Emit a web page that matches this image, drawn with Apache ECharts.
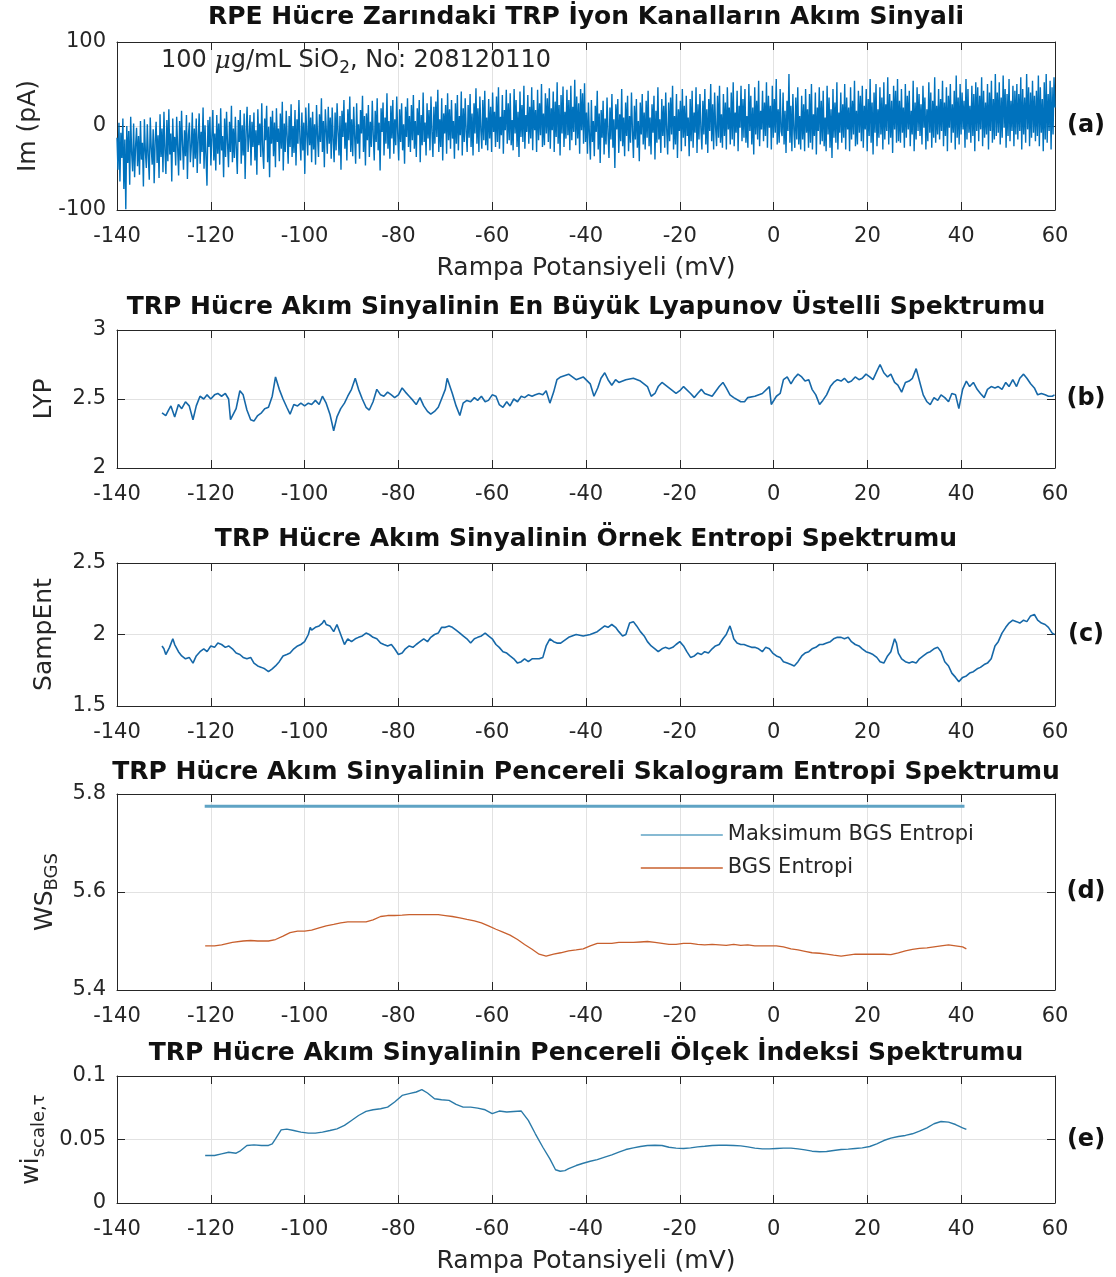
<!DOCTYPE html>
<html><head><meta charset="utf-8">
<script src="https://cdn.jsdelivr.net/npm/echarts@6/dist/echarts.min.js"></script>
<style>html,body{margin:0;padding:0;background:#fff}#c{width:1116px;height:1277px}</style>
</head><body><div id="c"></div><script>
// ---------- data ----------
const xTickMin = -140, xTickMax = 60, xTickStep = 20;
const imStart = -140, imEnd = 60;
const imValues = [
-14,-52,4,-66,-8,-38,9,-75,-16,-99,0,-44,-6,-70,11,-33,-54,3,-61,-24,
-2,-48,-12,-58,6,-40,-20,-72,8,-30,-50,2,-36,-64,10,-26,-46,-4,-68,-18,
5,-44,-11,-62,14,-37,-3,-55,17,-29,-57,7,-42,20,-34,-9,-66,9,-31,-13,
-47,11,-26,-59,6,-41,18,-22,-52,-5,-36,13,-63,-11,4,-43,-24,16,-49,-3,
-39,9,-56,-15,15,-45,-7,-31,22,-51,1,-37,-71,7,-25,11,-47,-13,19,-41,
-9,-53,13,-33,3,-46,21,-29,-12,-61,9,-37,17,-21,-49,5,-31,24,-43,-3,
-38,11,-27,-57,7,-19,19,-45,1,-35,15,-63,-7,23,-31,-13,13,-47,5,-25,
16,-41,-5,-58,20,-23,3,-37,27,-29,-51,9,-17,24,-43,-1,-61,11,-21,18,
-36,4,-49,21,-19,-3,-42,15,-27,29,-53,3,-31,18,-13,-45,12,-25,26,-37,
0,-32,19,-47,8,-21,31,-15,-41,16,-29,4,-57,22,-9,-35,27,-23,10,-43,
17,-28,2,-46,25,-11,-37,14,-19,33,-31,6,-49,20,-5,-33,23,-21,10,-39,
22,-16,-43,16,-29,27,-7,-35,12,-52,18,-13,31,-27,4,-41,20,-17,35,-31,
8,-36,23,-13,-45,27,-21,2,-39,19,-9,36,-31,12,-47,15,-17,25,-37,5,
-25,30,-11,-41,18,-19,33,-29,4,-53,21,-7,28,-35,10,-21,39,-27,6,-39,
24,-15,31,-33,8,-23,35,-9,-41,20,-19,27,-29,2,-45,23,-13,33,-25,12,
-31,25,-17,37,-27,6,-37,21,-11,31,-43,13,-23,40,-19,4,-35,27,-15,19,
-29,35,-7,-37,23,-21,29,-13,43,-31,8,-25,33,-41,15,-9,25,-33,39,-17,
20,-27,31,-15,6,-39,27,-21,37,-29,12,-11,41,-35,21,-19,33,-7,-31,25,
-14,38,-25,15,-35,27,-9,45,-21,21,-31,35,-5,-27,31,-17,42,-23,10,-29,
32,-15,23,-31,40,-7,17,-25,35,-19,46,-27,11,-11,37,-33,19,-5,43,-21,
27,-17,39,-23,7,-29,44,-9,31,-25,17,-37,41,-13,25,-19,48,-27,13,-7,
37,-21,23,-15,46,-29,31,-5,19,-31,43,-17,27,-11,50,-25,15,-23,39,-9,
33,-19,45,-27,21,-5,41,-31,29,-13,52,-21,25,-35,37,-9,47,-25,17,-15,
43,-11,31,-29,48,-17,23,-7,55,-23,35,-15,27,-33,44,-5,39,-21,51,-19,
16,-33,28,-10,-40,31,-19,6,-36,24,-7,42,-28,15,-44,19,-14,30,-34,9,
-22,34,-8,-38,22,-16,38,-26,8,-50,26,-4,32,-32,14,-18,44,-24,10,-36,
28,-12,36,-30,12,-20,40,-6,-38,24,-16,32,-26,6,-42,28,-10,38,-22,16,
-28,30,-14,42,-24,10,-34,26,-8,36,-40,18,-20,46,-16,8,-32,32,-12,24,
-26,40,-4,-34,28,-18,34,-10,48,-28,12,-22,38,-38,20,-6,30,-30,44,-14,
24,-24,36,-12,10,-36,32,-18,42,-26,16,-8,46,-32,26,-16,38,-4,-28,30,
-10,44,-22,20,-32,32,-6,50,-18,26,-28,40,-2,-24,36,-14,48,-20,14,-26,
38,-12,28,-28,46,-4,22,-22,40,-16,52,-24,16,-8,42,-30,24,-2,48,-18,
32,-14,44,-20,12,-26,50,-6,36,-22,22,-34,46,-10,30,-16,54,-24,18,-4,
42,-18,28,-12,52,-26,36,-2,24,-28,48,-14,32,-8,56,-22,20,-20,44,-6,
-12,40,-22,18,-32,30,-6,62,-20,24,-30,38,-4,-26,34,-16,46,-22,12,-28,
36,-16,26,-30,44,-8,20,-26,38,-20,50,-28,14,-12,40,-34,22,-6,46,-22,
30,-18,42,-24,10,-30,48,-10,34,-26,20,-38,44,-14,28,-20,52,-28,16,-8,
40,-20,26,-14,50,-28,34,-4,22,-30,46,-16,30,-10,54,-24,18,-22,42,-8,
36,-18,48,-26,24,-4,44,-30,32,-12,56,-20,28,-34,40,-8,50,-24,20,-14,
46,-10,34,-28,52,-16,26,-6,58,-22,38,-14,30,-32,48,-4,42,-20,56,-18,
30,-20,44,-8,22,-26,50,-14,36,-4,42,-24,18,-10,54,-30,28,-16,46,-6,
38,-12,26,-22,48,-2,34,-28,20,-18,52,-8,40,-26,30,-14,58,-20,24,-10,
44,-16,32,-6,54,-24,28,-12,46,-30,36,-2,50,-20,26,-8,42,-28,60,-14,
34,-22,50,-10,40,-4,30,-26,56,-16,44,-8,24,-20,48,-12,38,-30,52,-6,
46,-18,36,-4,58,-24,42,-14,28,-10,50,-28,40,-6,54,-20,32,-16,62,-12,
40,-8,52,-22,34,-14,60,-2,44,-26,38,-12,56,-18,30,-6,48,-24,42,-10,
50,-16,38,-6,58,-28,44,-10,34,-20,62,-4,46,-24,40,-14,54,-8,36,-18,
42,-12,60,-24,46,-8,32,-30,52,-16,62,-20,38,-6,54,-28,46,-10,58,22
];
const lypData = [
[-130.4,2.40],[-129.6,2.38],[-129,2.42],[-128.5,2.45],[-127.7,2.37],[-126.9,2.46],[-126.2,2.43],[-125.4,2.48],[-124.6,2.45],[-123.8,2.35],[-123.1,2.45],[-122.3,2.52],[-121.5,2.50],[-120.8,2.53],[-120,2.50],[-119.2,2.53],[-118.5,2.54],[-117.7,2.52],[-116.9,2.54],[-116.2,2.50],[-115.8,2.35],[-114.6,2.43],[-113.8,2.56],[-113.1,2.53],[-112.3,2.42],[-111.5,2.35],[-110.8,2.34],[-110,2.38],[-109.2,2.40],[-108.5,2.43],[-107.7,2.44],[-106.9,2.52],[-106.2,2.66],[-105.4,2.57],[-104.6,2.50],[-103.8,2.44],[-103.1,2.39],[-102.3,2.46],[-101.5,2.45],[-100.8,2.47],[-100,2.45],[-99.2,2.47],[-98.5,2.46],[-97.7,2.49],[-96.9,2.46],[-96.2,2.52],[-95.4,2.47],[-94.6,2.39],[-93.8,2.27],[-93.1,2.37],[-92.3,2.43],[-91.5,2.47],[-90.8,2.52],[-90,2.57],[-89.2,2.65],[-88.5,2.57],[-87.7,2.50],[-86.9,2.44],[-86.2,2.42],[-85.4,2.48],[-84.6,2.57],[-83.8,2.53],[-83.1,2.52],[-82.3,2.55],[-81.5,2.53],[-80.8,2.51],[-80,2.53],[-79.2,2.58],[-78.5,2.55],[-77.7,2.52],[-76.9,2.49],[-76.2,2.46],[-75.4,2.51],[-74.6,2.45],[-73.8,2.41],[-73.1,2.39],[-72.3,2.41],[-71.5,2.44],[-70.8,2.50],[-70,2.57],[-69.6,2.65],[-68.5,2.54],[-67.7,2.45],[-66.9,2.38],[-66.2,2.47],[-65.4,2.49],[-64.6,2.48],[-63.8,2.51],[-63.1,2.49],[-62.3,2.52],[-61.5,2.48],[-60.8,2.49],[-60,2.53],[-59.2,2.52],[-58.5,2.46],[-57.7,2.44],[-56.9,2.48],[-56.2,2.45],[-55.4,2.50],[-54.6,2.48],[-53.8,2.52],[-53.1,2.51],[-52.3,2.53],[-51.5,2.52],[-50.8,2.53],[-50,2.54],[-49.2,2.53],[-48.5,2.56],[-47.7,2.47],[-46.9,2.55],[-46.2,2.64],[-45.4,2.66],[-43.7,2.68],[-42.1,2.64],[-40.6,2.66],[-39.1,2.61],[-38.3,2.52],[-37.5,2.58],[-36.8,2.65],[-36,2.69],[-35.3,2.64],[-34.5,2.60],[-33.7,2.64],[-33,2.62],[-31.5,2.64],[-29.9,2.65],[-28.4,2.63],[-26.9,2.59],[-26.1,2.52],[-25.3,2.54],[-24.6,2.59],[-23.8,2.62],[-22.3,2.58],[-20.8,2.54],[-20,2.56],[-19.2,2.59],[-17.7,2.54],[-16.9,2.51],[-16.2,2.54],[-15.4,2.57],[-14.7,2.54],[-13.1,2.52],[-11.6,2.59],[-10.8,2.62],[-10.1,2.58],[-9.3,2.53],[-8.5,2.51],[-7,2.48],[-6.2,2.48],[-5.5,2.51],[-4,2.52],[-2.4,2.54],[-0.9,2.59],[-0.5,2.46],[0.6,2.52],[1.4,2.54],[2.1,2.64],[2.9,2.66],[3.7,2.61],[4.4,2.65],[5.2,2.68],[6,2.66],[6.7,2.63],[7.5,2.64],[8.2,2.57],[9,2.53],[9.8,2.46],[10.5,2.49],[11.3,2.53],[12.1,2.59],[12.8,2.62],[13.6,2.64],[14.4,2.63],[15.1,2.65],[15.9,2.62],[16.6,2.63],[17.4,2.66],[18.2,2.64],[18.9,2.65],[19.7,2.68],[20.5,2.66],[21.2,2.64],[22,2.70],[22.7,2.75],[23.5,2.69],[24.3,2.66],[25,2.68],[25.8,2.62],[26.5,2.60],[27.3,2.55],[28.1,2.62],[28.9,2.63],[29.6,2.65],[30.4,2.72],[31.1,2.63],[31.9,2.53],[32.7,2.48],[33.4,2.46],[34.2,2.51],[35,2.49],[35.7,2.53],[36.5,2.51],[37.3,2.48],[38,2.54],[38.8,2.53],[39.5,2.43],[40.3,2.57],[41.1,2.63],[41.8,2.59],[42.6,2.62],[43.4,2.57],[44.1,2.54],[44.9,2.51],[45.6,2.57],[46.4,2.59],[47.2,2.58],[47.9,2.59],[48.7,2.57],[49.5,2.62],[50.2,2.59],[51,2.64],[51.8,2.59],[52.5,2.65],[53.3,2.68],[54,2.65],[54.8,2.61],[55.6,2.58],[56.3,2.53],[57.1,2.54],[57.9,2.53],[58.6,2.52],[59.4,2.52],[59.9,2.53]
];
const sampEntData = [
[-130.4,1.92],[-130,1.90],[-129.6,1.86],[-128.8,1.91],[-128.1,1.97],[-127.7,1.93],[-126.9,1.88],[-126.2,1.85],[-125.4,1.83],[-124.6,1.84],[-123.8,1.80],[-123.1,1.85],[-122.3,1.88],[-121.5,1.90],[-120.8,1.88],[-120,1.92],[-119.2,1.91],[-118.5,1.94],[-117.7,1.93],[-116.9,1.91],[-116.2,1.92],[-115.4,1.90],[-114.6,1.87],[-113.8,1.86],[-113.1,1.84],[-112.3,1.83],[-111.5,1.84],[-110.8,1.80],[-110,1.78],[-109.2,1.77],[-108.5,1.76],[-107.7,1.74],[-106.9,1.76],[-106.2,1.78],[-105.4,1.81],[-104.6,1.85],[-103.8,1.86],[-103.1,1.87],[-102.3,1.90],[-101.5,1.92],[-100.8,1.93],[-100,1.95],[-99.2,2.00],[-98.8,2.05],[-98.5,2.03],[-97.7,2.05],[-96.9,2.06],[-96.2,2.08],[-95.8,2.10],[-95.4,2.07],[-94.6,2.06],[-93.8,2.02],[-93.1,2.07],[-92.7,2.06],[-92.3,2.00],[-91.5,1.93],[-90.8,1.97],[-90,1.95],[-89.2,1.97],[-88.5,1.98],[-87.7,1.99],[-86.9,2.01],[-86.2,2.00],[-85.4,1.98],[-84.6,1.97],[-83.8,1.94],[-83.1,1.93],[-82.3,1.92],[-81.5,1.93],[-80.8,1.90],[-80,1.86],[-79.2,1.87],[-78.5,1.90],[-77.7,1.92],[-76.9,1.91],[-76.2,1.93],[-75.4,1.95],[-74.6,1.97],[-73.8,1.95],[-73.1,1.98],[-72.3,2.00],[-71.5,2.01],[-70.8,2.05],[-70,2.05],[-69.2,2.06],[-68.5,2.05],[-67.7,2.03],[-66.9,2.01],[-66.2,1.99],[-65.4,1.97],[-64.6,1.94],[-63.8,1.97],[-63.1,1.98],[-62.3,1.99],[-61.5,2.01],[-60.8,1.99],[-60,1.97],[-59.2,1.93],[-58.5,1.91],[-57.7,1.88],[-56.9,1.87],[-56.2,1.85],[-55.4,1.83],[-54.6,1.80],[-53.8,1.81],[-53.1,1.83],[-52.3,1.81],[-51.5,1.83],[-50.8,1.83],[-50,1.83],[-49.2,1.84],[-48.5,1.92],[-47.7,1.97],[-46.9,1.95],[-46.2,1.94],[-45.4,1.94],[-43.7,1.98],[-42.1,2.00],[-40.6,1.99],[-39.1,2.00],[-37.6,2.02],[-36,2.06],[-35.3,2.05],[-34.5,2.07],[-33.7,2.05],[-33,2.02],[-32.2,1.99],[-31.5,2.00],[-30.7,2.08],[-29.9,2.09],[-29.2,2.06],[-28.4,2.02],[-27.6,1.99],[-26.9,1.95],[-26.1,1.92],[-25.3,1.90],[-24.6,1.88],[-23.8,1.90],[-23.1,1.91],[-22.3,1.90],[-21.5,1.91],[-20.8,1.93],[-20,1.95],[-19.2,1.92],[-18.5,1.88],[-17.7,1.84],[-16.9,1.85],[-16.2,1.87],[-15.4,1.86],[-14.7,1.88],[-13.9,1.87],[-13.1,1.90],[-12.4,1.92],[-11.6,1.93],[-10.8,1.97],[-10.1,2.00],[-9.3,2.06],[-8.9,2.02],[-8.5,1.97],[-7.8,1.94],[-7,1.93],[-6.3,1.93],[-5.5,1.92],[-4.7,1.91],[-4,1.91],[-3.2,1.90],[-2.4,1.88],[-1.7,1.91],[-0.9,1.90],[-0.2,1.87],[0.6,1.85],[1.4,1.84],[2.1,1.81],[2.9,1.80],[3.7,1.79],[4.4,1.78],[5.2,1.81],[6,1.85],[6.7,1.87],[7.5,1.88],[8.2,1.90],[9,1.91],[9.8,1.93],[10.5,1.93],[11.3,1.94],[12.1,1.95],[12.8,1.97],[13.6,1.98],[14.4,1.98],[15.1,1.97],[15.9,1.98],[16.6,1.95],[17.4,1.93],[18.2,1.92],[18.9,1.90],[19.7,1.88],[20.5,1.87],[21.2,1.86],[22,1.84],[22.7,1.81],[23.5,1.80],[24.3,1.85],[25,1.88],[25.8,1.97],[26.2,1.94],[26.6,1.87],[27.3,1.83],[28.1,1.81],[28.9,1.80],[29.6,1.81],[30.4,1.80],[31.1,1.83],[31.9,1.85],[32.7,1.87],[33.4,1.88],[34.2,1.90],[35,1.91],[35.7,1.88],[36.5,1.81],[37.3,1.78],[38,1.73],[38.8,1.70],[39.5,1.67],[40.3,1.70],[41.1,1.71],[41.8,1.73],[42.6,1.74],[43.4,1.76],[44.1,1.77],[44.9,1.79],[45.6,1.80],[46.4,1.83],[47.2,1.92],[47.9,1.95],[48.7,2.01],[49.5,2.05],[50.2,2.08],[51,2.10],[51.8,2.09],[52.5,2.08],[53.3,2.10],[54,2.09],[54.8,2.13],[55.6,2.14],[56.3,2.10],[57.1,2.08],[57.9,2.07],[58.6,2.05],[59.4,2.01],[59.9,2.00]
];
const maxBgsData = [[-121.3,5.775],[40.7,5.775]];
const bgsData = [
[-121.2,5.490],[-119.2,5.490],[-117.7,5.492],[-115.4,5.497],[-113.1,5.500],[-111.5,5.501],[-110,5.500],[-107.7,5.500],[-106.2,5.503],[-104.6,5.510],[-103.1,5.517],[-101.5,5.520],[-100,5.520],[-98.5,5.522],[-96.9,5.527],[-95.4,5.531],[-93.8,5.534],[-92.3,5.537],[-90.8,5.539],[-88.5,5.539],[-86.9,5.539],[-85.4,5.543],[-83.8,5.550],[-82.3,5.552],[-80.8,5.552],[-79.2,5.553],[-77.7,5.554],[-76.2,5.554],[-74.6,5.554],[-73.1,5.554],[-71.5,5.554],[-70,5.552],[-68.5,5.550],[-66.9,5.547],[-65.4,5.544],[-63.8,5.541],[-62.3,5.537],[-60.8,5.531],[-59.2,5.524],[-57.7,5.518],[-56.2,5.512],[-54.6,5.503],[-53.1,5.493],[-51.5,5.483],[-50,5.473],[-48.5,5.469],[-46.9,5.473],[-45.4,5.476],[-43.7,5.480],[-42.1,5.482],[-40.6,5.484],[-39.1,5.490],[-37.6,5.495],[-36,5.495],[-34.5,5.495],[-33,5.497],[-31.5,5.497],[-29.9,5.497],[-28.4,5.498],[-26.9,5.499],[-25.3,5.497],[-23.8,5.495],[-22.3,5.493],[-20.8,5.493],[-19.2,5.495],[-17.7,5.495],[-16.2,5.493],[-14.7,5.492],[-13.1,5.493],[-11.6,5.492],[-10.1,5.491],[-8.5,5.493],[-7,5.491],[-5.5,5.492],[-4,5.490],[-2.4,5.490],[-0.9,5.490],[0.6,5.490],[2.1,5.488],[3.7,5.484],[5.2,5.482],[6.7,5.479],[8.2,5.476],[9.8,5.475],[11.3,5.473],[12.8,5.471],[14.4,5.469],[15.9,5.471],[17.4,5.473],[18.9,5.473],[20.5,5.473],[22,5.473],[23.5,5.473],[25,5.472],[26.6,5.476],[28.1,5.480],[29.6,5.483],[31.1,5.485],[32.7,5.486],[34.2,5.488],[35.7,5.490],[37.3,5.492],[38.8,5.490],[40.3,5.488],[41.1,5.484]
];
const wiData = [
[-121.2,0.0374],[-119.2,0.0374],[-117.7,0.0387],[-116.2,0.0400],[-114.6,0.0392],[-113.8,0.0408],[-112.3,0.0453],[-110.8,0.0458],[-109.2,0.0453],[-107.7,0.0453],[-106.9,0.0466],[-106.2,0.0505],[-105,0.0576],[-103.8,0.0582],[-102.3,0.0571],[-100.8,0.0558],[-99.2,0.0550],[-97.7,0.0550],[-96.2,0.0558],[-94.6,0.0571],[-93.1,0.0584],[-91.5,0.0611],[-90,0.0650],[-88.5,0.0689],[-86.9,0.0721],[-85.4,0.0734],[-83.8,0.0742],[-82.3,0.0755],[-80.8,0.0795],[-79.2,0.0847],[-77.7,0.0861],[-76.2,0.0874],[-75,0.0892],[-73.8,0.0866],[-72.3,0.0821],[-70.8,0.0813],[-69.2,0.0808],[-67.7,0.0776],[-66.2,0.0755],[-64.6,0.0755],[-63.1,0.0747],[-61.5,0.0734],[-60,0.0703],[-58.5,0.0724],[-56.9,0.0716],[-55.4,0.0721],[-53.8,0.0724],[-52.3,0.0650],[-50.8,0.0545],[-49.2,0.0439],[-47.7,0.0347],[-46.5,0.0262],[-45.5,0.0250],[-44.5,0.0255],[-43.7,0.0270],[-42.1,0.0295],[-40.6,0.0313],[-39.1,0.0329],[-37.6,0.0342],[-36,0.0361],[-34.5,0.0379],[-33,0.0400],[-31.5,0.0421],[-29.9,0.0434],[-28.4,0.0445],[-26.9,0.0453],[-25.3,0.0455],[-23.8,0.0453],[-22.3,0.0439],[-20.8,0.0432],[-19.2,0.0429],[-17.7,0.0434],[-16.2,0.0442],[-14.7,0.0447],[-13.1,0.0453],[-11.6,0.0455],[-10.1,0.0455],[-8.5,0.0453],[-7,0.0450],[-5.5,0.0442],[-4,0.0432],[-2.4,0.0426],[-0.9,0.0426],[0.6,0.0429],[2.1,0.0432],[3.7,0.0432],[5.2,0.0426],[6.7,0.0418],[8.2,0.0408],[9.8,0.0403],[11.3,0.0405],[12.8,0.0413],[14.4,0.0421],[15.9,0.0424],[17.4,0.0429],[18.9,0.0434],[20.5,0.0445],[22,0.0466],[23.5,0.0492],[25,0.0511],[26.6,0.0524],[28.1,0.0532],[29.6,0.0545],[31.1,0.0566],[32.7,0.0592],[34.2,0.0624],[35.7,0.0642],[37.3,0.0637],[38.8,0.0618],[40.3,0.0592],[41.1,0.0579]
];
const titles = [
 'RPE Hücre Zarındaki TRP İyon Kanalların Akım Sinyali',
 'TRP Hücre Akım Sinyalinin En Büyük Lyapunov Üstelli Spektrumu',
 'TRP Hücre Akım Sinyalinin Örnek Entropi Spektrumu',
 'TRP Hücre Akım Sinyalinin Pencereli Skalogram Entropi Spektrumu',
 'TRP Hücre Akım Sinyalinin Pencereli Ölçek İndeksi Spektrumu'
];
const panelTags = ['(a)','(b)','(c)','(d)','(e)'];
const yRanges = [[-100,100,100],[2,3,0.5],[1.5,2.5,0.5],[5.4,5.8,0.2],[0,0.1,0.05]];
const yNames = ['Im (pA)','LYP','SampEnt','{m|WS}{s|BGS}','{m|wi}{s|scale,τ}'];
const xName = 'Rampa Potansiyeli (mV)';
const legendNames = ['Maksimum BGS Entropi','BGS Entropi'];
const annotation = '{n|100 }{mu|μ}{n|g/mL SiO}{s|2}{n|, No: 208120110}';

// ---------- layout ----------
const FONT = 'DejaVu Sans';
const AX = '#262626';
const GRIDC = '#e2e2e2';
const plotLeft = 117, plotRight = 61;
const panels = [
 {top:42, height:168, titleTop:5, nameGap:76},
 {top:330, height:138, titleTop:295, nameGap:60},
 {top:563, height:143, titleTop:527, nameGap:60},
 {top:794, height:196, titleTop:760, nameGap:58},
 {top:1076, height:127, titleTop:1041, nameGap:66}
];
const plotCenter = plotLeft + (1116 - plotLeft - plotRight) / 2;

const imData = imValues.map((v, i) => [imStart + i * (imEnd - imStart) / (imValues.length - 1), v]);

const grid = panels.map(p => ({left: plotLeft, right: plotRight, top: p.top, height: p.height, containLabel: false}));
const xAxis = [], yAxis = [];
panels.forEach((p, i) => {
  xAxis.push({
    type:'value', gridIndex:i, min:xTickMin, max:xTickMax, interval:xTickStep, position:'bottom',
    axisLine:{show:true, onZero:false, lineStyle:{color:AX, width:1}},
    axisTick:{show:true, inside:true, length:8, lineStyle:{color:AX}},
    axisLabel:{show:true, fontSize:21, color:AX, margin:16, fontFamily:FONT},
    splitLine:{show:true, lineStyle:{color:GRIDC, width:1}},
    name:(i===0||i===4)?xName:'', nameLocation:'middle', nameGap:46,
    nameTextStyle:{fontSize:25, color:AX, fontFamily:FONT}
  });
});
panels.forEach((p, i) => {
  xAxis.push({
    type:'value', gridIndex:i, min:xTickMin, max:xTickMax, interval:xTickStep, position:'top',
    axisLine:{show:true, onZero:false, lineStyle:{color:AX, width:1}},
    axisTick:{show:true, inside:true, length:8, lineStyle:{color:AX}},
    axisLabel:{show:false}, splitLine:{show:false}
  });
});
panels.forEach((p, i) => {
  const r = yRanges[i];
  yAxis.push({
    type:'value', gridIndex:i, min:r[0], max:r[1], interval:r[2], position:'left',
    axisLine:{show:true, onZero:false, lineStyle:{color:AX, width:1}},
    axisTick:{show:true, inside:true, length:8, lineStyle:{color:AX}},
    axisLabel:{show:true, fontSize:21, color:AX, margin:11, fontFamily:FONT},
    splitLine:{show:true, lineStyle:{color:GRIDC, width:1}},
    name:yNames[i], nameLocation:'middle', nameGap:p.nameGap,
    nameTextStyle:{fontSize:25, color:AX, fontFamily:FONT,
      rich:{m:{fontSize:25, lineHeight:25, verticalAlign:'top', color:AX, fontFamily:FONT},
            s:{fontSize:18, lineHeight:20, padding:[11,0,0,0], verticalAlign:'top', color:AX, fontFamily:FONT}}}
  });
});
panels.forEach((p, i) => {
  const r = yRanges[i];
  yAxis.push({
    type:'value', gridIndex:i, min:r[0], max:r[1], interval:r[2], position:'right',
    axisLine:{show:true, onZero:false, lineStyle:{color:AX, width:1}},
    axisTick:{show:true, inside:true, length:8, lineStyle:{color:AX}},
    axisLabel:{show:false}, splitLine:{show:false}
  });
});

const title = [];
titles.forEach((t, i) => {
  title.push({text:t, left:plotCenter, top:panels[i].titleTop, textAlign:'center', padding:0,
    textStyle:{fontSize:25, fontWeight:'bold', color:'#111', fontFamily:FONT}});
});
panelTags.forEach((t, i) => {
  title.push({text:t, left:1086, top:panels[i].top + panels[i].height/2, textAlign:'center', textVerticalAlign:'middle', padding:0,
    textStyle:{fontSize:24, fontWeight:'bold', color:'#111', fontFamily:FONT}});
});
title.push({text:annotation, left:161, top:49, textAlign:'left', padding:0,
  textStyle:{fontSize:24, fontWeight:'normal', color:AX, fontFamily:FONT,
    rich:{n:{fontSize:24, fontWeight:'normal', lineHeight:24, verticalAlign:'top', color:AX, fontFamily:FONT},
          mu:{fontSize:25, fontWeight:'normal', lineHeight:24, verticalAlign:'top', color:AX, fontStyle:'italic', fontFamily:'DejaVu Serif'},
          s:{fontSize:17, fontWeight:'normal', lineHeight:20, padding:[11,0,0,0], verticalAlign:'top', color:AX, fontFamily:FONT}}}});

const lineBase = {type:'line', symbol:'none', showSymbol:false, animation:false, silent:true};
const series = [
  Object.assign({}, lineBase, {name:'Im', xAxisIndex:0, yAxisIndex:0, data:imData, lineStyle:{color:'#0072BD', width:1.4}, itemStyle:{color:'#0072BD'}}),
  Object.assign({}, lineBase, {name:'LYP', xAxisIndex:1, yAxisIndex:1, data:lypData, lineStyle:{color:'#1668a8', width:1.6}, itemStyle:{color:'#1668a8'}}),
  Object.assign({}, lineBase, {name:'SampEnt', xAxisIndex:2, yAxisIndex:2, data:sampEntData, lineStyle:{color:'#1668a8', width:1.6}, itemStyle:{color:'#1668a8'}}),
  Object.assign({}, lineBase, {name:legendNames[0], xAxisIndex:3, yAxisIndex:3, data:maxBgsData, lineStyle:{color:'#5fa3c4', width:3}, itemStyle:{color:'#5fa3c4'}}),
  Object.assign({}, lineBase, {name:legendNames[1], xAxisIndex:3, yAxisIndex:3, data:bgsData, lineStyle:{color:'#c8602e', width:1.3}, itemStyle:{color:'#c8602e'}}),
  Object.assign({}, lineBase, {name:'wi', xAxisIndex:4, yAxisIndex:4, data:wiData, lineStyle:{color:'#2a7aa8', width:1.4}, itemStyle:{color:'#2a7aa8'}})
];

const chart = echarts.init(document.getElementById('c'), null, {renderer:'canvas'});
chart.setOption({
  animation:false,
  backgroundColor:'#ffffff',
  textStyle:{fontFamily:FONT},
  title, grid, xAxis, yAxis, series,
  legend:{show:true, data:legendNames, orient:'vertical', left:640, top:824, padding:0,
    itemWidth:82, itemHeight:22, itemGap:11, selectedMode:false,
    itemStyle:{color:'rgba(0,0,0,0)', borderColor:'rgba(0,0,0,0)', borderWidth:0, opacity:0},
    lineStyle:{width:1.6},
    textStyle:{fontSize:21, color:AX, lineHeight:22, fontFamily:FONT}}
});
</script></body></html>
